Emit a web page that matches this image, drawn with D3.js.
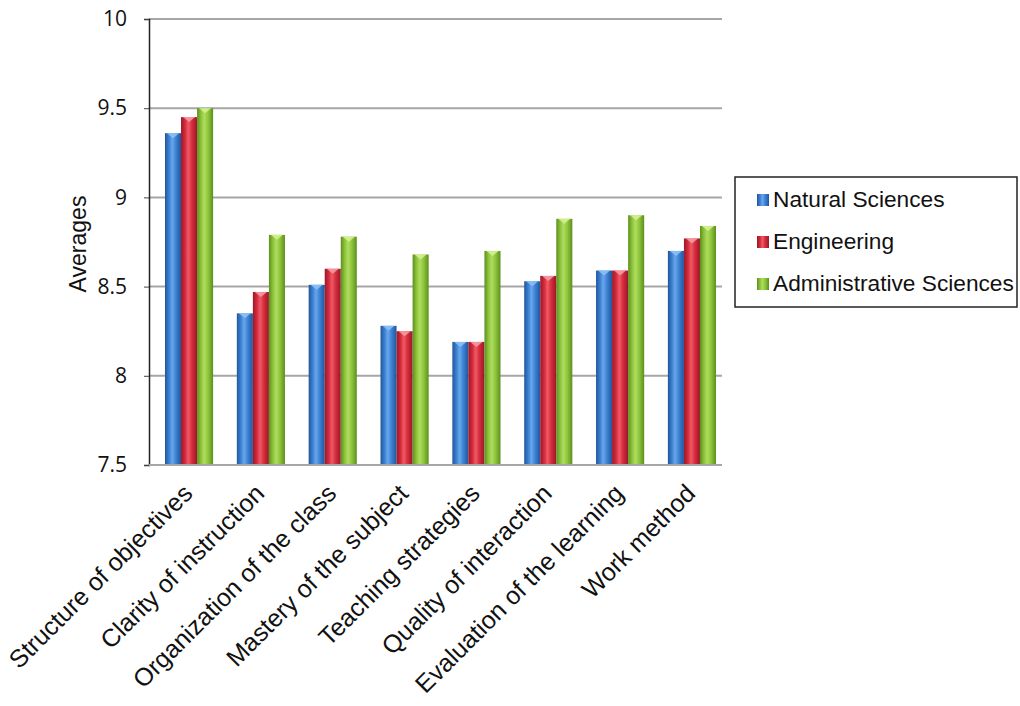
<!DOCTYPE html>
<html><head><meta charset="utf-8">
<script src="https://cdn.jsdelivr.net/npm/d3@7"></script>
<style>body{margin:0;background:#fff}</style>
</head><body>
<svg id="c" width="1020" height="706"></svg>
<script>
const categories = ["Structure of objectives","Clarity of instruction","Organization of the class","Mastery of the subject","Teaching strategies","Quality of interaction","Evaluation of the learning","Work method"];
const seriesNames = ["Natural Sciences","Engineering","Administrative Sciences"];
const naturalSciences = [9.36,8.35,8.51,8.28,8.19,8.53,8.59,8.70];
const engineering = [9.45,8.47,8.60,8.25,8.19,8.56,8.59,8.77];
const adminSciences = [9.50,8.79,8.78,8.68,8.70,8.88,8.90,8.84];
const yTicks = [7.5,8,8.5,9,9.5,10];
const yTickLabels = ["7.5","8","8.5","9","9.5","10"];

(function(){
const seriesValues = [naturalSciences, engineering, adminSciences];
const colors = [
  {base:"#3a80d2", dark:"#22559a", light:"#6aa6ea", cap:"#8cc0f4"},
  {base:"#d42a3a", dark:"#98182a", light:"#ee5a66", cap:"#f49aa2"},
  {base:"#8cc43a", dark:"#5e8e1e", light:"#b0dc60", cap:"#d4f090"}
];

const svg = d3.select("#c");
const pl = 149, pr = 722, pt = 19, pb = 465;
const y = d3.scaleLinear().domain([7.5,10]).range([pb, pt]);
const x0 = d3.scaleBand().domain(categories).range([156, 725]).paddingInner(0.33).paddingOuter(0.125);
const x1 = d3.scaleBand().domain(seriesNames).range([0, x0.bandwidth()]);

const defs = svg.append("defs");
colors.forEach((c,i)=>{
  const g = defs.append("linearGradient").attr("id","g"+i).attr("x1","0").attr("x2","1").attr("y1","0").attr("y2","0");
  g.append("stop").attr("offset","0%").attr("stop-color",c.dark);
  g.append("stop").attr("offset","25%").attr("stop-color",c.base);
  g.append("stop").attr("offset","45%").attr("stop-color",c.light);
  g.append("stop").attr("offset","70%").attr("stop-color",c.base);
  g.append("stop").attr("offset","100%").attr("stop-color",c.dark);
});

svg.append("g").selectAll("line").data(yTicks).join("line")
  .attr("x1", pl).attr("x2", pr)
  .attr("y1", d=>y(d)).attr("y2", d=>y(d))
  .attr("stroke", "#a6a6a6").attr("stroke-width", 2);

const groups = svg.append("g").selectAll("g").data(categories).join("g")
  .attr("transform", d=>`translate(${x0(d)},0)`);
groups.each(function(cat, ci){
  const g = d3.select(this);
  seriesNames.forEach((s, si)=>{
    const v = seriesValues[si][ci];
    const bx = x1(s), bw = x1.bandwidth(), by = y(v);
    g.append("rect").attr("x", bx).attr("y", by).attr("width", bw).attr("height", pb - by)
      .attr("fill", `url(#g${si})`);
    g.append("path")
      .attr("d", `M${bx+2},${by} L${bx+bw-2},${by} L${bx+bw/2},${by+5} Z`)
      .attr("fill", colors[si].cap).attr("opacity", 0.9);
  });
});

const yAxis = d3.axisLeft(y).tickValues(yTicks).tickFormat((d,i)=>yTickLabels[i]).tickSize(5).tickPadding(17);
const ya = svg.append("g").attr("transform", `translate(${pl},0)`).call(yAxis);
ya.select(".domain").attr("stroke","#222").attr("stroke-width",1.5);
ya.selectAll(".tick line").attr("stroke","#444");
ya.selectAll("text").attr("font-family","'Open Sans', 'Noto Sans', sans-serif").attr("font-size",21).attr("fill","#111");

svg.append("line").attr("x1", pl).attr("x2", pr).attr("y1", pb).attr("y2", pb)
  .attr("stroke","#a6a6a6").attr("stroke-width",2);

svg.append("g").selectAll("text").data(categories).join("text")
  .attr("transform", d=>`translate(${x0(d)+x0.bandwidth()/2+5},${pb+30}) rotate(-45)`)
  .attr("text-anchor","end")
  .attr("font-family","'Liberation Sans', Arial, sans-serif").attr("font-size",25).attr("fill","#111")
  .text(d=>d);

svg.append("text").attr("transform", `translate(86,244) rotate(-90)`).attr("text-anchor","middle")
  .attr("font-family","'Liberation Sans', Arial, sans-serif").attr("font-size",23).attr("fill","#111")
  .text("Averages");

const lg = svg.append("g").attr("transform","translate(735,177)");
lg.append("rect").attr("width",282).attr("height",130).attr("fill","#fff").attr("stroke","#222").attr("stroke-width",1.5);
seriesNames.forEach((s,i)=>{
  const ry = 22 + i*42;
  lg.append("rect").attr("x",22).attr("y",ry-5).attr("width",12).attr("height",12).attr("fill",`url(#g${i})`);
  lg.append("text").attr("x",38).attr("y",ry+8).attr("font-family","'Liberation Sans', Arial, sans-serif")
    .attr("font-size",22.7).attr("fill","#111").text(s);
});
})();
</script>
</body></html>
